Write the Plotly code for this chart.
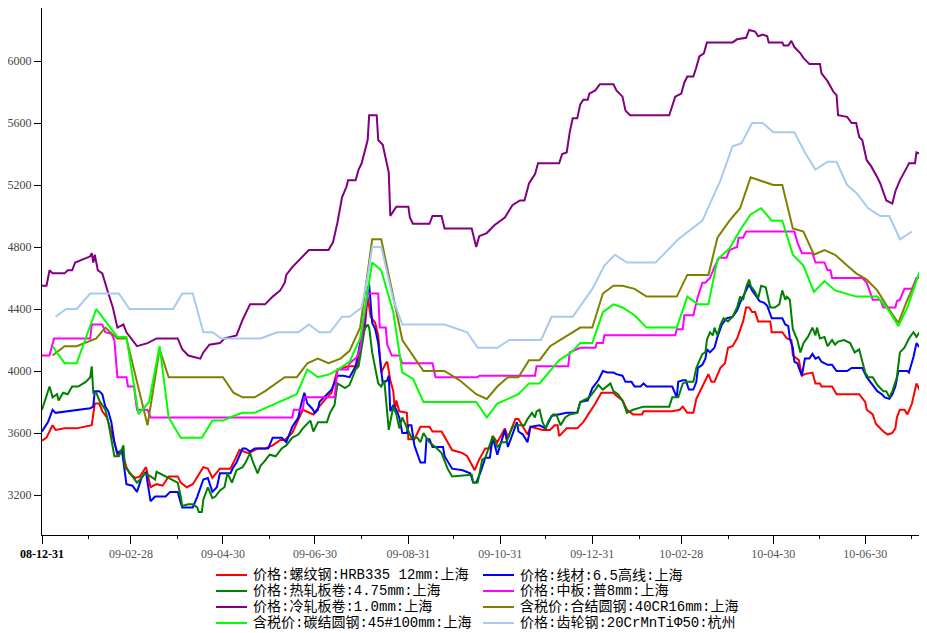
import pandas as pd
import plotly.graph_objects as go

BASE = "2008-12-31"

# ---- data: day offsets from 2008-12-31 and prices ----
rebar_days = [0,3,7,9,15,23,33,35,38,40,43,45,48,50,53,56,58,62,65,69,70,72,76,80,84,90,92,96,100,103,107,110,113,118,125,127,131,137,143,148,153,158,161,166,170,173,180,183,189,192,196,203,209,211,214,216,218,221,223,225,228,229,231,233,234,235,237,242,243,247,251,257,259,265,272,279,282,287,290,294,297,299,302,307,309,314,316,319,322,324,332,337,340,342,343,348,355,359,363,367,371,379,381,385,388,392,398,399,418,423,425,428,432,434,438,442,444,446,450,453,455,458,461,464,465,467,469,471,473,475,483,484,491,494,497,498,502,504,506,511,513,516,517,524,527,542,546,547,551,553,556,558,561,564,566,567,569,572,574,577,580,583]
rebar_vals = [3550,3570,3650,3620,3630,3630,3650,3790,3790,3740,3700,3640,3540,3460,3480,3380,3340,3310,3320,3380,3340,3250,3270,3260,3320,3320,3280,3250,3270,3320,3380,3370,3310,3370,3370,3410,3490,3470,3500,3500,3520,3555,3555,3600,3680,3750,3720,3760,3830,3860,4010,4030,4030,4160,4270,4480,4350,4310,4230,3990,4050,4060,3940,3870,3750,3810,3740,3730,3560,3560,3640,3640,3610,3610,3490,3470,3450,3360,3430,3500,3500,3580,3540,3630,3570,3690,3690,3640,3590,3640,3620,3620,3650,3650,3580,3630,3630,3670,3730,3790,3860,3860,3840,3810,3750,3720,3720,3740,3740,3750,3770,3730,3730,3820,3900,3980,3930,3930,4020,4050,4150,4160,4210,4290,4320,4410,4410,4380,4380,4320,4320,4250,4250,4210,4200,4100,4070,3970,3980,3990,3920,3920,3900,3900,3850,3850,3800,3750,3720,3660,3630,3610,3590,3600,3630,3700,3750,3750,3720,3790,3920,3860]

wire_days = [0,4,7,9,32,34,35,38,40,42,44,46,48,50,53,56,60,63,66,69,70,72,75,82,85,90,92,93,100,103,107,110,113,116,118,125,127,129,133,135,138,141,150,153,159,162,166,170,172,174,176,179,181,183,184,189,192,196,200,204,208,211,214,216,217,219,221,223,226,229,230,231,233,235,237,239,242,243,245,247,251,254,255,257,259,266,267,272,279,284,286,288,291,294,297,299,302,307,309,315,316,319,322,324,330,334,338,348,355,357,362,365,369,372,375,379,381,385,387,391,393,397,399,401,418,421,422,425,427,429,432,434,435,438,440,441,443,446,448,451,454,458,461,463,466,469,471,474,476,479,481,484,491,493,495,496,498,499,501,502,504,506,509,511,513,515,517,521,524,527,534,537,544,547,551,554,557,559,562,564,566,568,574,575,578,580,583]
wire_vals = [3610,3670,3750,3730,3760,3770,3870,3870,3850,3770,3740,3670,3540,3470,3490,3270,3260,3220,3310,3350,3280,3160,3190,3190,3220,3220,3150,3120,3120,3190,3300,3310,3220,3250,3340,3340,3380,3410,3500,3500,3480,3500,3500,3570,3570,3540,3640,3700,3790,3860,3790,3760,3730,3750,3800,3850,3880,3970,3970,3960,4030,4180,4310,4520,4560,4310,4270,4180,3920,3940,3970,3740,3780,3750,3700,3600,3600,3650,3650,3520,3410,3410,3560,3560,3510,3510,3450,3370,3360,3340,3280,3280,3350,3440,3440,3570,3460,3620,3510,3670,3610,3590,3540,3640,3650,3630,3710,3730,3730,3800,3810,3890,3940,4000,3990,3990,3980,3970,3930,3930,3900,3900,3920,3900,3900,3830,3930,3940,3940,3880,3880,3930,4020,4040,4080,4140,4120,4150,4220,4300,4340,4350,4390,4440,4500,4560,4520,4480,4450,4440,4420,4340,4340,4300,4290,4210,4150,4060,4050,4020,3970,4080,4080,4110,4080,4090,4060,4040,4040,4000,4000,4020,4020,3960,3910,3870,3850,3830,3820,3850,3900,4000,4000,3990,4090,4180,4140]

hrc_days = [0,3,5,7,10,11,14,17,20,24,29,32,33,34,36,38,42,44,48,51,54,55,57,60,63,66,68,72,75,76,82,86,90,92,93,97,100,103,104,106,107,110,113,115,118,121,123,126,129,133,135,138,140,143,145,147,151,155,159,162,166,170,173,178,180,183,189,191,194,196,201,204,208,210,212,214,216,217,219,223,225,227,230,233,235,237,239,243,245,249,251,253,257,262,265,269,272,285,286,289,292,294,295,299,302,305,308,312,316,320,322,325,327,328,330,332,334,336,339,341,344,347,350,355,357,361,363,367,369,372,377,379,382,385,388,392,395,399,416,418,422,425,428,432,434,436,438,440,441,443,445,446,448,450,452,455,458,461,463,465,467,469,470,473,475,477,480,483,486,489,491,493,494,496,498,501,503,505,508,511,513,514,516,519,521,524,526,528,532,536,539,542,544,546,548,551,554,558,560,562,564,567,569,572,575,578,580,582,583]
hrc_vals = [3750,3850,3900,3830,3850,3810,3860,3850,3900,3900,3930,3960,4030,3860,3860,3810,3750,3670,3450,3450,3520,3380,3360,3320,3280,3310,3340,3320,3300,3350,3320,3300,3280,3190,3130,3140,3140,3120,3090,3090,3170,3250,3180,3190,3230,3250,3340,3280,3360,3380,3410,3470,3410,3340,3390,3410,3460,3450,3500,3520,3570,3590,3630,3680,3610,3670,3670,3730,3780,3920,3890,3910,4010,4030,4140,4270,4300,4280,4120,3920,3900,3940,3620,3770,3720,3630,3700,3620,3570,3570,3540,3600,3540,3500,3470,3370,3320,3330,3280,3280,3430,3440,3470,3580,3510,3540,3540,3640,3650,3650,3690,3730,3700,3740,3750,3670,3630,3680,3720,3720,3650,3700,3720,3730,3800,3820,3830,3880,3910,3880,3920,3870,3850,3810,3730,3750,3760,3770,3770,3830,3830,3920,3930,3930,4020,4070,4110,4120,4200,4250,4230,4280,4230,4300,4340,4320,4350,4410,4480,4460,4540,4590,4550,4510,4470,4550,4540,4410,4410,4430,4520,4460,4480,4460,4270,4200,4120,4180,4220,4280,4230,4280,4210,4220,4160,4200,4170,4190,4200,4180,4120,4140,4070,3990,3960,3960,3910,3870,3870,3830,3870,3960,4120,4150,4210,4250,4220,4250,4220]

plate_days = [0,5,8,32,33,40,42,46,48,50,56,57,61,63,70,72,166,167,173,174,194,196,203,204,209,211,216,223,224,228,229,232,237,239,259,261,289,290,327,328,349,350,357,367,368,372,373,420,421,425,426,432,435,438,440,443,446,449,454,456,461,462,465,467,499,501,504,511,513,519,521,523,524,544,547,551,556,558,566,567,569,572,577,580,583]
plate_vals = [4100,4100,4210,4210,4300,4300,4250,4240,4200,3960,3960,3900,3900,3750,3750,3700,3700,3750,3750,3830,3830,4010,4010,4050,4090,4150,4500,4500,4280,4280,4170,4100,4100,4050,4050,3960,3960,3970,3970,4030,4030,4120,4150,4150,4180,4180,4230,4230,4270,4270,4360,4360,4480,4570,4570,4600,4670,4730,4730,4780,4800,4860,4860,4900,4900,4830,4760,4760,4700,4700,4650,4650,4600,4600,4570,4460,4460,4410,4410,4450,4460,4530,4530,4600,4600]

crc_days = [0,3,5,7,15,17,20,22,32,33,34,35,37,40,44,47,50,54,56,63,70,76,90,93,97,105,107,111,118,121,129,133,138,148,153,158,161,162,166,174,177,190,193,196,199,202,203,208,210,212,216,217,222,223,226,230,231,233,235,243,244,246,257,259,265,267,285,288,290,295,300,307,312,317,320,323,327,329,343,345,348,350,352,355,357,359,362,363,367,370,379,381,385,387,390,416,418,420,424,426,428,432,434,436,439,441,458,461,467,469,473,475,478,481,482,491,492,495,497,499,503,505,509,516,517,521,525,527,528,534,537,540,542,544,547,550,554,556,560,564,566,569,574,575,579,580,583]
crc_vals = [4550,4550,4650,4630,4630,4650,4650,4700,4740,4760,4700,4750,4650,4630,4500,4410,4280,4300,4250,4160,4180,4210,4210,4140,4100,4080,4120,4170,4180,4210,4230,4330,4430,4430,4480,4520,4570,4620,4670,4750,4780,4780,4830,4960,5120,5190,5230,5230,5300,5340,5490,5650,5650,5490,5460,5280,5000,5030,5060,5060,4990,4950,4950,5000,5000,4920,4920,4800,4870,4890,4940,4990,5070,5100,5100,5210,5270,5340,5340,5400,5410,5540,5630,5630,5720,5750,5750,5790,5810,5850,5850,5810,5770,5680,5650,5650,5710,5770,5790,5860,5900,5900,5960,6030,6050,6120,6120,6140,6150,6200,6190,6160,6170,6160,6120,6120,6100,6100,6130,6090,6050,6020,5980,5980,5920,5870,5800,5780,5650,5640,5600,5600,5510,5490,5360,5320,5250,5210,5100,5080,5160,5230,5320,5340,5340,5410,5400]

alloy_days = [7,15,23,36,42,50,56,70,78,84,120,127,133,141,148,161,169,176,183,190,198,204,211,219,225,233,239,253,267,277,288,295,302,309,316,323,330,337,345,357,365,372,379,385,393,401,421,428,442,448,456,463,470,485,491,498,505,512,519,526,534,540,547,554,561,568,574,582]
alloy_vals = [4100,4160,4160,4210,4280,4210,4210,3650,4140,3960,3960,3860,3830,3830,3870,3960,3960,4050,4080,4050,4080,4130,4280,4850,4850,4480,4200,4000,4000,3940,3850,3820,3900,3960,3960,4070,4070,4160,4210,4280,4280,4500,4550,4550,4530,4480,4480,4620,4620,4860,4970,5050,5250,5200,5200,4920,4900,4750,4780,4750,4680,4630,4590,4520,4410,4310,4460,4630]

carbon_days = [7,15,23,36,50,56,64,71,78,84,92,106,113,120,127,133,141,148,169,176,183,191,198,204,211,219,225,233,239,246,253,288,295,302,316,323,330,343,351,357,365,372,379,385,393,401,421,428,435,442,448,456,463,470,477,484,491,498,505,512,519,526,540,554,561,568,574,582]
carbon_vals = [4160,4050,4050,4400,4220,4220,3720,3800,4160,3700,3570,3570,3680,3680,3710,3730,3730,3760,3850,4010,3960,3980,4020,4060,4210,4700,4650,4380,3990,3950,3800,3800,3700,3790,3850,3920,3920,4070,4120,4180,4180,4380,4430,4410,4360,4280,4280,4480,4430,4430,4720,4790,4910,5010,5050,4970,4970,4750,4680,4510,4580,4520,4480,4480,4400,4290,4410,4640]

gear_days = [9,16,23,32,51,58,87,93,100,107,113,119,145,156,170,177,184,191,199,204,212,216,219,225,233,239,267,282,289,302,310,331,338,352,365,373,380,388,407,422,438,450,458,464,471,478,485,499,506,513,521,527,534,540,548,556,562,569,577]
gear_vals = [4350,4400,4400,4500,4500,4400,4400,4500,4500,4250,4250,4210,4210,4250,4250,4300,4250,4250,4350,4350,4410,4610,4800,4800,4460,4300,4300,4250,4150,4150,4200,4200,4350,4350,4530,4680,4750,4700,4700,4850,4970,5230,5450,5470,5600,5600,5540,5540,5410,5300,5350,5350,5200,5150,5050,5000,5000,4850,4900]

series_names = [
    "价格:螺纹钢:HRB335 12mm:上海",
    "价格:线材:6.5高线:上海",
    "价格:热轧板卷:4.75mm:上海",
    "价格:中板:普8mm:上海",
    "价格:冷轧板卷:1.0mm:上海",
    "含税价:合结圆钢:40CR16mm:上海",
    "含税价:碳结圆钢:45#100mm:上海",
    "价格:齿轮钢:20CrMnTiΦ50:杭州",
]
series_days = [rebar_days, wire_days, hrc_days, plate_days, crc_days, alloy_days, carbon_days, gear_days]
series_vals = [rebar_vals, wire_vals, hrc_vals, plate_vals, crc_vals, alloy_vals, carbon_vals, gear_vals]
series_colors = ["#FF0000", "#0000FF", "#008000", "#FF00FF", "#800080", "#808000", "#00FF00", "#A6CAF0"]

major_tick_dates = ["2008-12-31", "2009-02-28", "2009-04-30", "2009-06-30", "2009-08-31",
                    "2009-10-31", "2009-12-31", "2010-02-28", "2010-04-30", "2010-06-30"]
major_tick_text = ["<b><span style='color:#000'>08-12-31</span></b>", "09-02-28", "09-04-30", "09-06-30",
                   "09-08-31", "09-10-31", "09-12-31", "10-02-28", "10-04-30", "10-06-30"]
minor_tick_dates = ["2009-01-31", "2009-03-31", "2009-05-31", "2009-07-31", "2009-09-30",
                    "2009-11-30", "2010-01-31", "2010-03-31", "2010-05-31", "2010-07-31"]
y_ticks = [3200, 3600, 4000, 4400, 4800, 5200, 5600, 6000]

base = pd.Timestamp(BASE)


def to_dates(days):
    return [base + pd.Timedelta(days=d) for d in days]


fig = go.Figure()
for name, days, vals, col in zip(series_names, series_days, series_vals, series_colors):
    fig.add_trace(go.Scatter(x=to_dates(days), y=vals, mode="lines", name=name,
                             line=dict(color=col, width=2), showlegend=False))

# the page body adds an 8px offset; size the figure so it fills the window
OFF = 8
W, H = 927 - OFF, 633 - OFF
ML, MR, MT, MB = 34, 6, 0, 98
PW, PH = W - ML - MR, H - MT - MB


def pxx(px):
    return (px - OFF - ML) / PW


def pxy(py):
    return (H - MB - (py - OFF)) / PH


# custom two-column legend (text kept as real text)
legend_font = dict(family="Liberation Mono, Noto Sans CJK SC, sans-serif", size=14, color="#000")
rows_y = [575, 591, 607, 623]
cols = [(216, 247, 251), (483, 514, 518)]
shapes = []
annotations = []
for i, (name, col) in enumerate(zip(series_names, series_colors)):
    r, c = divmod(i, 2)
    x0, x1, xt = cols[c]
    yy = pxy(rows_y[r])
    shapes.append(dict(type="line", xref="paper", yref="paper", x0=pxx(x0), x1=pxx(x1),
                       y0=yy, y1=yy, line=dict(color=col, width=2)))
    annotations.append(dict(xref="paper", yref="paper", x=pxx(xt), y=yy, text=name,
                            showarrow=False, xanchor="left", yanchor="middle", font=legend_font))

end_date = base + pd.Timedelta(days=583)

fig.update_layout(
    width=W, height=H,
    margin=dict(l=ML, r=MR, t=MT, b=MB, pad=0),
    paper_bgcolor="white", plot_bgcolor="white",
    showlegend=False,
    shapes=shapes, annotations=annotations,
    xaxis=dict(
        type="date", range=[base, end_date],
        tickmode="array", tickvals=major_tick_dates, ticktext=major_tick_text,
        ticks="outside", ticklen=8, tickcolor="#000", tickwidth=1,
        showline=True, linecolor="#000", linewidth=1, showgrid=False, zeroline=False,
        tickfont=dict(family="Liberation Serif, serif", size=12, color="#555"),
        minor=dict(tickmode="array", tickvals=minor_tick_dates, ticks="outside", ticklen=3,
                   tickcolor="#000", showgrid=False),
    ),
    yaxis=dict(
        range=[2942, 6342], tickmode="array", tickvals=y_ticks,
        ticks="outside", ticklen=7, tickcolor="#000", tickwidth=1,
        showline=True, linecolor="#000", linewidth=1, showgrid=False, zeroline=False,
        tickfont=dict(family="Liberation Serif, serif", size=12, color="#444"),
    ),
)

fig.write_html("out.html")
